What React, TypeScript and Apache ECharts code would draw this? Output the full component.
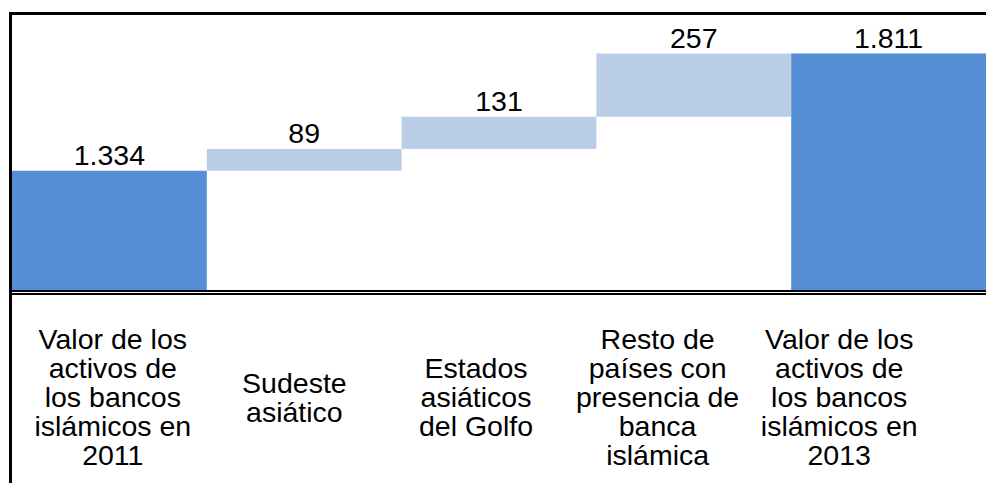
import React, { useEffect, useRef } from "react";
import * as echarts from "echarts";

const categories: string[] = [
  "Valor de los\nactivos de\nlos bancos\nislámicos en\n2011",
  "Sudeste\nasiático",
  "Estados\nasiáticos\ndel Golfo",
  "Resto de\npaíses con\npresencia de\nbanca\nislámica",
  "Valor de los\nactivos de\nlos bancos\nislámicos en\n2013",
];
// Bar amounts shown in the chart (totals first and last, increments between)
const amounts: number[] = [1334, 89, 131, 257, 1811];
const isTotal: boolean[] = [true, false, false, false, true];

const totalColor = "#558ED5";
const stepColor = "#B9CDE5";
const fontFamily = "'Liberation Sans', Arial, sans-serif";

function fmt(v: number): string {
  return String(Math.round(v)).replace(/\B(?=(\d{3})+(?!\d))/g, ".");
}

export default function App() {
  const ref = useRef<HTMLDivElement>(null);

  useEffect(() => {
    if (!ref.current) return;
    const chart = echarts.init(ref.current, null, { renderer: "svg" });

    // invisible base for floating bars
    const base: number[] = [];
    let running = 0;
    amounts.forEach((a, i) => {
      if (isTotal[i]) {
        base.push(0);
        running = a;
      } else {
        base.push(running);
        running += a;
      }
    });

    const option: echarts.EChartsCoreOption = {
      animation: false,
      backgroundColor: "#ffffff",
      grid: [
        { left: 12, top: 13, width: 974, height: 277 },
        { left: 22, top: 13, width: 908, height: 279 },
      ],
      xAxis: [
        {
          type: "category",
          gridIndex: 0,
          data: categories,
          offset: 1,
          axisLine: { show: true, lineStyle: { color: "#000", width: 2 } },
          axisTick: { show: false },
          axisLabel: { show: false },
        },
        {
          type: "category",
          gridIndex: 0,
          position: "bottom",
          data: categories,
          offset: 4,
          axisLine: { show: true, lineStyle: { color: "#000", width: 2 } },
          axisTick: { show: false },
          axisLabel: { show: false },
        },
        {
          type: "category",
          gridIndex: 1,
          data: categories,
          axisLine: { show: false },
          axisTick: { show: false },
          axisLabel: {
            show: true,
            interval: 0,
            margin: 105,
            verticalAlign: "middle",
            align: "center",
            color: "#000",
            fontSize: 28.5,
            lineHeight: 29,
            fontFamily,
          },
        },
      ],
      yAxis: [
        { type: "value", gridIndex: 0, min: 849, max: 1976, show: false },
        { type: "value", gridIndex: 1, min: 0, max: 1, show: false },
      ],
      series: [
        {
          type: "bar",
          xAxisIndex: 0,
          yAxisIndex: 0,
          stack: "w",
          data: base,
          barWidth: "100%",
          itemStyle: { color: "transparent" },
          silent: true,
        },
        {
          type: "bar",
          xAxisIndex: 0,
          yAxisIndex: 0,
          stack: "w",
          barWidth: "100%",
          data: amounts.map((a, i) => ({
            value: a,
            itemStyle: { color: isTotal[i] ? totalColor : stepColor },
          })),
          label: {
            show: true,
            position: "top",
            distance: 1,
            color: "#000",
            fontSize: 28.5,
            fontFamily,
            formatter: (p: any) => fmt(p.value),
          },
        },
      ],
      graphic: [
        {
          type: "line",
          shape: { x1: 9, y1: 13.5, x2: 986, y2: 13.5 },
          style: { stroke: "#000", lineWidth: 3 },
        },
        {
          type: "line",
          shape: { x1: 10.5, y1: 12, x2: 10.5, y2: 483 },
          style: { stroke: "#000", lineWidth: 3 },
        },
      ],
    };
    chart.setOption(option);
    return () => chart.dispose();
  }, []);

  return (
    <div
      ref={ref}
      style={{ position: "fixed", left: 0, top: 0, width: 986, height: 483, background: "#fff" }}
    />
  );
}
